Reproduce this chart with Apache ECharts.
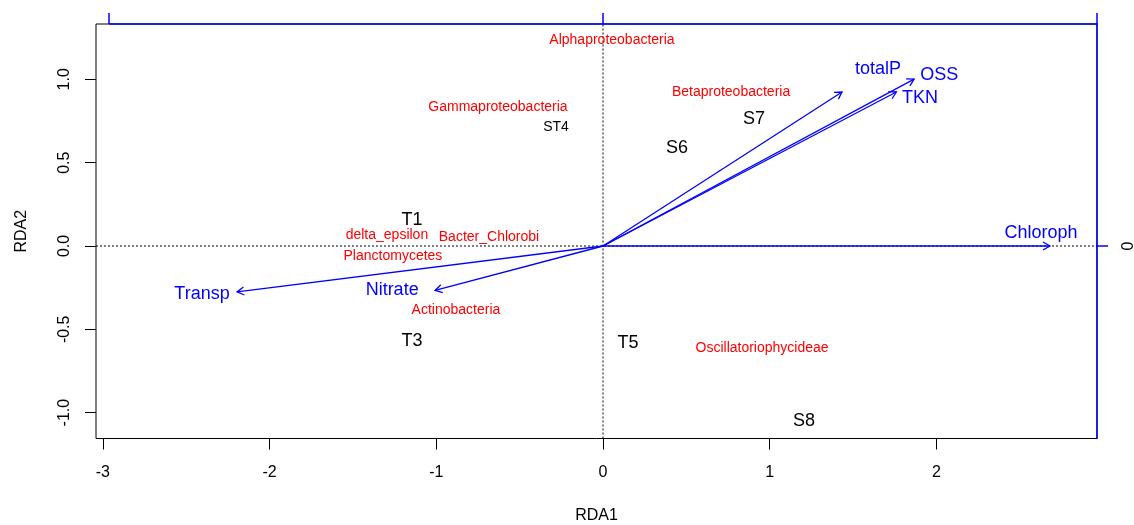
<!DOCTYPE html>
<html>
<head>
<meta charset="utf-8">
<script src="https://cdn.jsdelivr.net/npm/echarts@6/dist/echarts.min.js"></script>
<style>
html,body{margin:0;padding:0;background:#fff;}
#chart{width:1134px;height:525px;}
</style>
</head>
<body>
<div id="chart"></div>
<script>
// ---- Data ----
// Axis ranges (RDA units)
const xRange = [-3.041, 2.963];
const yRange = [-1.155, 1.332];
const xTicks = [-3, -2, -1, 0, 1, 2];
const yTicks = [-1, -0.5, 0, 0.5, 1];
// Biplot (arrow) axis scale: 1 arrow unit = 2.962 RDA units
const arrowScale = 2.962;
const topTicks = [-1, 0, 1];
const rightTicks = [0];

// Sites (black)
const siteNames = ['ST4', 'S6', 'S7', 'T1', 'T3', 'T5', 'S8'];
const siteX = [-0.282, 0.444, 0.906, -1.146, -1.146, 0.150, 1.206];
const siteY = [0.714, 0.588, 0.762, 0.156, -0.570, -0.582, -1.050];
const siteSize = [14, 18, 18, 18, 18, 18, 18];

// Species (red)
const speciesNames = ['Alphaproteobacteria', 'Gammaproteobacteria', 'Betaproteobacteria',
  'delta_epsilon', 'Bacter_Chlorobi', 'Planctomycetes', 'Actinobacteria', 'Oscillatoriophycideae'];
const speciesX = [0.054, -0.630, 0.768, -1.296, -0.684, -1.260, -0.882, 0.954];
const speciesY = [1.236, 0.834, 0.924, 0.066, 0.054, -0.060, -0.384, -0.612];

// Environmental arrows (blue), biplot units
const envNames = ['Chloroph', 'totalP', 'OSS', 'TKN', 'Transp', 'Nitrate'];
const envX = [0.905, 0.484, 0.630, 0.594, -0.741, -0.340];
const envY = [0.000, 0.312, 0.338, 0.312, -0.093, -0.090];
// Arrow label positions, biplot units
const envLabelX = [0.887, 0.557, 0.681, 0.642, -0.812, -0.427];
const envLabelY = [0.026, 0.358, 0.346, 0.300, -0.097, -0.089];

// ---- Chart ----
const chart = echarts.init(document.getElementById('chart'), null, {renderer: 'canvas'});
const FONT = 'Liberation Sans, Arial, sans-serif';
const ax2 = [xRange[0] / arrowScale, xRange[1] / arrowScale];
const ay2 = [yRange[0] / arrowScale, yRange[1] / arrowScale];

function textSeries(names, xs, ys, color, sizes, xi, yi) {
  return {
    type: 'custom',
    xAxisIndex: xi, yAxisIndex: yi,
    silent: true,
    clip: false,
    z: 5,
    data: xs.map((x, i) => [x, ys[i]]),
    renderItem: function (params, api) {
      const p = api.coord([api.value(0), api.value(1)]);
      const i = params.dataIndex;
      return {
        type: 'text',
        style: {
          text: names[i], x: p[0], y: p[1],
          align: 'center', verticalAlign: 'middle',
          fill: color,
          font: (Array.isArray(sizes) ? sizes[i] : sizes) + 'px ' + FONT
        }
      };
    }
  };
}

const option = {
  backgroundColor: '#fff',
  animation: false,
  grid: {left: 96, right: 37, top: 24, bottom: 86.5, containLabel: false, outerBoundsMode: 'none',
    show: true, borderColor: '#000', borderWidth: 1, backgroundColor: 'transparent'},
  xAxis: [
    {
      type: 'value', position: 'bottom', min: xRange[0], max: xRange[1],
      axisLine: {show: false, onZero: false},
      axisTick: {show: true, customValues: xTicks, length: 11, lineStyle: {color: '#000'}},
      axisLabel: {customValues: xTicks, color: '#000', fontSize: 16, fontFamily: FONT, margin: 26,
        formatter: v => String(v)},
      splitLine: {show: false},
      name: 'RDA1', nameLocation: 'middle', nameGap: 69,
      nameTextStyle: {color: '#000', fontSize: 16, fontFamily: FONT}
    },
    {
      type: 'value', position: 'top', min: ax2[0], max: ax2[1],
      axisLine: {show: false, onZero: false},
      axisTick: {show: true, customValues: topTicks, length: 11, lineStyle: {color: '#0000ff', width: 1.5}},
      axisLabel: {show: false},
      splitLine: {show: false}
    }
  ],
  yAxis: [
    {
      type: 'value', position: 'left', min: yRange[0], max: yRange[1],
      axisLine: {show: false, onZero: false},
      axisTick: {show: true, customValues: yTicks, length: 11, lineStyle: {color: '#000'}},
      axisLabel: {customValues: yTicks, color: '#000', fontSize: 16, fontFamily: FONT, rotate: 90, margin: 23,
        formatter: v => v.toFixed(1)},
      splitLine: {show: false},
      name: 'RDA2', nameLocation: 'middle', nameGap: 66, nameRotate: 90,
      nameTextStyle: {color: '#000', fontSize: 16, fontFamily: FONT}
    },
    {
      type: 'value', position: 'right', min: ay2[0], max: ay2[1],
      axisLine: {show: true, onZero: false, lineStyle: {color: '#0000ff', width: 1.5}},
      axisTick: {show: true, customValues: rightTicks, length: 11, lineStyle: {color: '#0000ff', width: 1.5}},
      axisLabel: {customValues: rightTicks, color: '#000', fontSize: 16, fontFamily: FONT, rotate: 90, margin: 24,
        formatter: v => String(v)},
      splitLine: {show: false}
    }
  ],
  series: [
    // zero lines (dotted)
    {
      type: 'line', xAxisIndex: 0, yAxisIndex: 0, silent: true, symbol: 'none',
      data: [[xRange[0], 0], [xRange[1], 0]],
      lineStyle: {color: '#000', width: 1, type: [2, 2]}, z: 1
    },
    {
      type: 'line', xAxisIndex: 0, yAxisIndex: 0, silent: true, symbol: 'none',
      data: [[0, yRange[0]], [0, yRange[1]]],
      lineStyle: {color: '#000', width: 1, type: [2, 2]}, z: 1
    },
    // top blue axis line from first tick (-1) to the right edge
    {
      type: 'line', xAxisIndex: 1, yAxisIndex: 1, silent: true, symbol: 'none', clip: false,
      data: [[topTicks[0], ay2[1]], [ax2[1], ay2[1]]],
      lineStyle: {color: '#0000ff', width: 1.5}, z: 6
    },
    // arrows
    {
      type: 'custom', xAxisIndex: 1, yAxisIndex: 1, silent: true, z: 3,
      data: envX.map((x, i) => [x, envY[i]]),
      renderItem: function (params, api) {
        const p0 = api.coord([0, 0]);
        const p1 = api.coord([api.value(0), api.value(1)]);
        const ang = Math.atan2(p1[1] - p0[1], p1[0] - p0[0]);
        const L = 8, a = Math.PI / 6;
        const h1 = [p1[0] - L * Math.cos(ang - a), p1[1] - L * Math.sin(ang - a)];
        const h2 = [p1[0] - L * Math.cos(ang + a), p1[1] - L * Math.sin(ang + a)];
        return {
          type: 'group',
          children: [
            {type: 'line', shape: {x1: p0[0], y1: p0[1], x2: p1[0], y2: p1[1]},
              style: {stroke: '#0000ff', lineWidth: 1.3}},
            {type: 'polyline', shape: {points: [h1, p1, h2]},
              style: {stroke: '#0000ff', fill: null, lineWidth: 1.3}}
          ]
        };
      }
    },
    textSeries(envNames, envLabelX, envLabelY, '#0000ff', 18, 1, 1),
    textSeries(speciesNames, speciesX, speciesY, '#ff0000', 14, 0, 0),
    textSeries(siteNames, siteX, siteY, '#000000', siteSize, 0, 0)
  ]
};
chart.setOption(option);
</script>
</body>
</html>
